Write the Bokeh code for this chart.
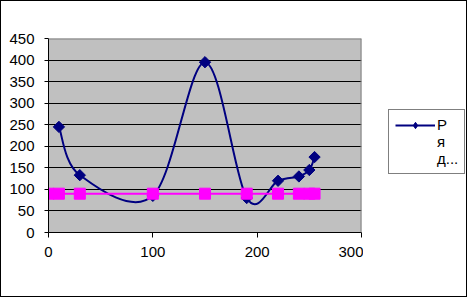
import numpy as np
from bokeh.plotting import figure
from bokeh.layouts import row
from bokeh.models import Legend, LegendItem, Span, Range1d
from bokeh.core.properties import value
from bokeh.embed import file_html
from bokeh.resources import INLINE

# Series 1 (navy, smoothed line with diamond markers)
s1_x = [10, 30, 100, 150, 190, 220, 240, 250, 255]
s1_y = [245, 133, 85, 395, 80, 120, 130, 145, 175]
# Series 2 (magenta, straight line with square markers)
s2_x = [0, 10, 30, 100, 150, 190, 220, 240, 250, 255]
s2_y = [90, 90, 90, 90, 90, 90, 90, 90, 90, 90]
x_ticks = [0, 100, 200, 300]
y_ticks = [0, 50, 100, 150, 200, 250, 300, 350, 400, 450]
legend_lines = ["Р", "я\nд..."]

NAVY = "#000080"
MAGENTA = "#FF00FF"
FONT = "Liberation Sans"

p = figure(width=362, height=295, x_range=(0, 300), y_range=(0, 450),
           output_backend="svg", toolbar_location=None,
           min_border_left=47, min_border_right=2,
           min_border_top=37, min_border_bottom=64)
p.background_fill_color = "#C0C0C0"
p.border_fill_color = "white"
p.outline_line_color = None

p.xaxis.ticker = x_ticks
p.yaxis.ticker = y_ticks
p.xgrid.visible = False
p.ygrid.ticker = p.yaxis[0].ticker
p.ygrid.grid_line_color = "black"
p.ygrid.grid_line_width = 1

for ax in (p.xaxis, p.yaxis):
    ax.axis_line_color = "black"
    ax.major_tick_line_color = "black"
    ax.minor_tick_line_color = None
    ax.major_tick_in = 0
    ax.major_tick_out = 5
    ax.major_label_text_font = FONT
    ax.major_label_text_font_size = "15px"
    ax.major_label_text_color = "black"
p.yaxis.major_tick_out = 4
p.yaxis.major_label_standoff = 10
p.xaxis.major_label_standoff = 9

# frame border (top and right)
p.add_layout(Span(location=450, dimension="width", line_color="#808080", line_width=2))
p.add_layout(Span(location=300, dimension="height", line_color="#808080", line_width=2))

# smoothed curve (Catmull-Rom -> cubic Bezier) through series 1
P = np.array([s1_x, s1_y], dtype=float).T
n = len(P)
x0, y0, x1, y1, cx0, cy0, cx1, cy1 = ([] for _ in range(8))
for i in range(n - 1):
    pm = P[max(i - 1, 0)]
    pa = P[i]
    pb = P[i + 1]
    pn = P[min(i + 2, n - 1)]
    c0 = pa + (pb - pm) / 6.0
    c1 = pb - (pn - pa) / 6.0
    x0.append(pa[0]); y0.append(pa[1]); x1.append(pb[0]); y1.append(pb[1])
    cx0.append(c0[0]); cy0.append(c0[1]); cx1.append(c1[0]); cy1.append(c1[1])
p.bezier(x0=x0, y0=y0, x1=x1, y1=y1, cx0=cx0, cy0=cy0, cx1=cx1, cy1=cy1,
         line_color=NAVY, line_width=2)
p.scatter(s1_x, s1_y, marker="square", angle=np.pi / 4, size=8,
          fill_color=NAVY, line_color=NAVY)

p.line(s2_x, s2_y, line_color=MAGENTA, line_width=2)
p.scatter(s2_x, s2_y, marker="square", size=11, fill_color=MAGENTA, line_color=MAGENTA)

# legend panel (separate canvas to the right of the plot)
lf = figure(width=103, height=295, x_range=Range1d(0, 300), y_range=Range1d(0, 450),
            output_backend="svg", toolbar_location=None,
            x_axis_location=None, y_axis_location=None,
            min_border_left=0, min_border_right=0, min_border_top=0, min_border_bottom=0)
lf.grid.visible = False
lf.outline_line_color = None
lf.background_fill_color = "white"
lf.border_fill_color = "white"
leg_line = lf.line(s1_x, s1_y, line_color=NAVY, line_width=2, visible=False)
leg_mark = lf.scatter(s1_x, s1_y, marker="diamond", size=11,
                      fill_color=NAVY, line_color=NAVY, visible=False)
leg_blank = lf.scatter(s1_x, s1_y, size=1, fill_alpha=0, line_alpha=0)
legend = Legend(items=[LegendItem(label=value(legend_lines[0]), renderers=[leg_line, leg_mark]),
                       LegendItem(label=value(legend_lines[1]), renderers=[leg_blank])],
                location=(25, 58), margin=0, padding=6, spacing=0,
                glyph_width=40, glyph_height=16, label_standoff=2,
                label_text_font=FONT, label_text_font_size="15px", label_text_color="black",
                border_line_color="black", border_line_width=1,
                background_fill_color="white", background_fill_alpha=1)
lf.add_layout(legend, "center")

layout = row(p, lf, spacing=0, styles={"border": "1px solid black"})
open("out.html", "w").write(file_html(layout, INLINE))
